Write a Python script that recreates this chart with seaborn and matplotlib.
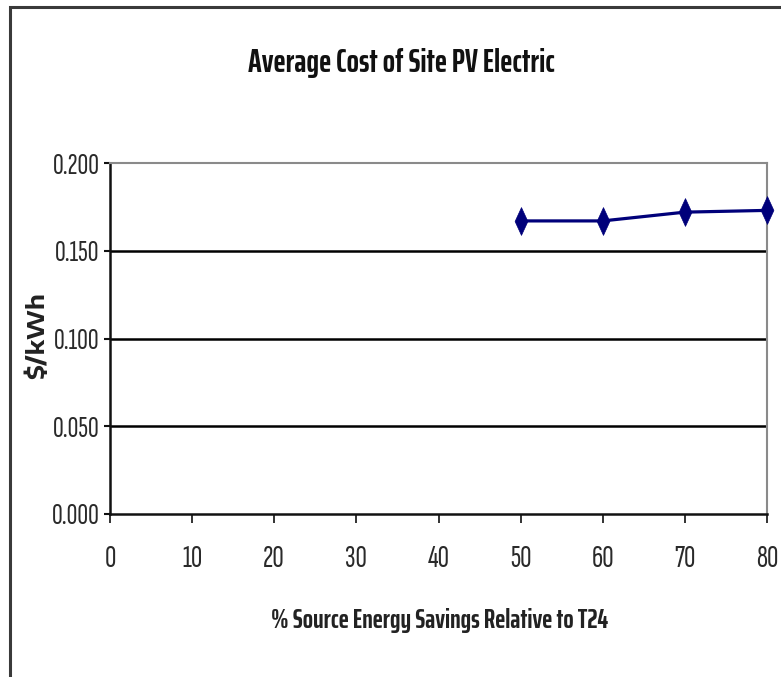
import matplotlib
matplotlib.use("Agg")
import matplotlib.pyplot as plt
from matplotlib.patches import Rectangle
from matplotlib.path import Path
import seaborn as sns
import pandas as pd

# Cost of site PV electricity by savings level
savings_pct = [50, 60, 70, 80]
cost_per_kwh = [0.167, 0.167, 0.172, 0.173]
x_ticks = [0, 10, 20, 30, 40, 50, 60, 70, 80]
y_ticks = [0.000, 0.050, 0.100, 0.150, 0.200]

df = pd.DataFrame({"savings": savings_pct, "cost": cost_per_kwh})

sns.set_style("white")
NARROW = ["Saira ExtraCondensed", "DejaVu Sans"]
TICKS = ["Sofia Sans Extra Condensed", "DejaVu Sans"]
WIDE = ["Encode Sans Expanded", "DejaVu Sans"]
plt.rcParams["font.family"] = NARROW

W, H = 781, 677
fig = plt.figure(figsize=(W / 100, H / 100), dpi=100)
ax = fig.add_axes([110 / W, 1 - 514 / H, 657 / W, 351 / H])

# chart frame (top and left edges)
fig.patches.append(Rectangle((10 / W, -0.1), 1.2, (H - 7) / H + 0.1,
                             transform=fig.transFigure, fill=False,
                             edgecolor="#3a3a3a", linewidth=2.2, zorder=0))

# tall, slim diamond marker
tall_diamond = Path([(0, 1), (0.46, 0), (0, -1), (-0.46, 0), (0, 1)],
                    [Path.MOVETO, Path.LINETO, Path.LINETO, Path.LINETO, Path.CLOSEPOLY])

sns.lineplot(data=df, x="savings", y="cost", ax=ax, color="#00007a",
             linewidth=2.3, marker=tall_diamond, markersize=20,
             markeredgecolor="#00007a", markeredgewidth=0.5,
             clip_on=False, zorder=5)

ax.set_xlim(0, 80)
ax.set_ylim(0, 0.2)
ax.set_xticks(x_ticks)
ax.set_yticks(y_ticks)
ax.set_xticklabels([str(v) for v in x_ticks], fontsize=22.5, color="#2a2a2a", family=TICKS)
ax.set_yticklabels([f"{v:.3f}" for v in y_ticks], fontsize=21.5, color="#2a2a2a", family=TICKS)

for yv in y_ticks[1:-1]:
    ax.axhline(yv, color="black", linewidth=1.8, zorder=1)

for side in ["left", "bottom"]:
    ax.spines[side].set_color("#111111")
    ax.spines[side].set_linewidth(1.8)
for side in ["top", "right"]:
    ax.spines[side].set_color("#8a8a8a")
    ax.spines[side].set_linewidth(1.5)

ax.tick_params(axis="x", direction="out", length=6.5, width=1.2, color="#111111", pad=16, bottom=True)
ax.tick_params(axis="y", direction="out", length=4, width=1.5, color="#111111", pad=3.5, left=True)

ax.set_xlabel("% Source Energy Savings Relative to T24", fontsize=19.5, fontweight="bold",
              color="#222222")
ax.xaxis.set_label_coords((440 - 110) / 657, -(628 - 514) / 351)
ax.xaxis.label.set_va("baseline")
ax.xaxis.label.set_ha("center")

ax.set_ylabel("$/kWh", fontsize=16.5, fontweight="bold", color="#222222", family=WIDE)
ax.yaxis.set_label_coords((37.5 - 110) / 657, (514 - 336) / 351)
ax.yaxis.label.set_rotation_mode("anchor")
ax.yaxis.label.set_va("center")
ax.yaxis.label.set_ha("center")

fig.text(401 / W, 1 - 72 / H, "Average Cost of Site PV Electric", ha="center", va="baseline",
         fontsize=23.4, fontweight="bold", color="#111111")

fig.savefig("out.png", dpi=100)
